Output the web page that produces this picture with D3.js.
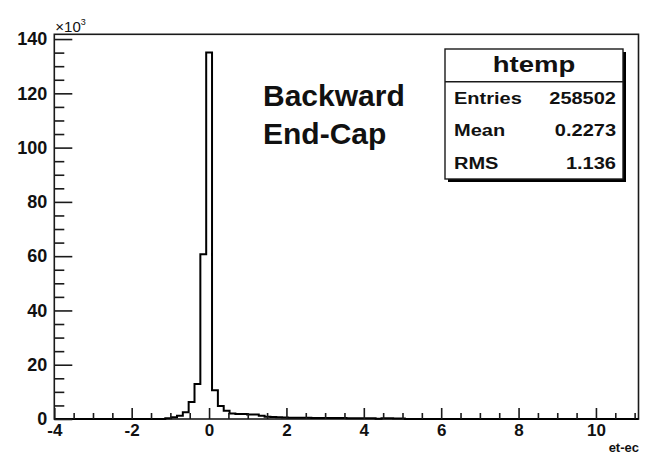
<!DOCTYPE html>
<html>
<head>
<meta charset="utf-8">
<script src="https://cdn.jsdelivr.net/npm/d3@7"></script>
<style>
  html, body { margin: 0; padding: 0; background: #fff; }
  svg { display: block; }
  text { font-family: "Liberation Sans", Arial, Helvetica, sans-serif; }
</style>
</head>
<body>
<svg id="chart" width="645" height="457"></svg>
<script>
// Histogram "htemp" of et-ec, 100 bins from -4 to 11.1, counts in units of 10^3
const xMin = -4;
const xMax = 11.1;
const binWidth = 0.151;
const counts = [
  0, 0, 0, 0, 0, 0, 0, 0, 0, 0,
  0, 0, 0, 0, 0, 0, 0, 0, 0, 0.3,
  0.6, 1.2, 2.5, 6.3, 12.9, 60.7, 135.0, 10.6, 4.8, 3.0,
  2.0, 1.8, 1.8, 1.7, 1.7, 1.2, 0.8, 0.7, 0.6, 0.55,
  0.5, 0.5, 0.45, 0.45, 0.4, 0.4, 0.4, 0.35, 0.35, 0.35,
  0.3, 0.3, 0.3, 0.3, 0.25, 0.05, 0.25, 0.25, 0.2, 0.2,
  0, 0, 0, 0, 0, 0, 0, 0, 0, 0,
  0, 0, 0, 0, 0, 0, 0, 0, 0, 0,
  0, 0, 0, 0, 0, 0, 0, 0, 0, 0,
  0, 0, 0, 0, 0, 0, 0, 0, 0, 0
];
const yMax = 141.75;

const xMajorTicks = [-4, -2, 0, 2, 4, 6, 8, 10];
const xMinorTicks = [-3.5, -3, -2.5, -1.5, -1, -0.5, 0.5, 1, 1.5, 2.5, 3, 3.5, 4.5, 5, 5.5, 6.5, 7, 7.5, 8.5, 9, 9.5, 10.5, 11];
const yMajorTicks = [0, 20, 40, 60, 80, 100, 120, 140];
const yMinorTicks = [5, 10, 15, 25, 30, 35, 45, 50, 55, 65, 70, 75, 85, 90, 95, 105, 110, 115, 125, 130, 135];

const statsTitle = "htemp";
const statsRows = [
  ["Entries", "258502"],
  ["Mean", "0.2273"],
  ["RMS", "1.136"]
];
const labelLines = ["Backward", "End-Cap"];
const xTitle = "et-ec";

const svg = d3.select("#chart");
const padL = 54.3, padR = 638.5, padT = 34.3, padB = 419;
const axisColor = "#1a1a1a";
const plain = d => String(d);   // ASCII hyphen for negative numbers

const x = d3.scaleLinear().domain([xMin, xMax]).range([padL, padR]);
const y = d3.scaleLinear().domain([0, yMax]).range([padB, padT]);

// frame
svg.append("rect")
  .attr("x", padL).attr("y", padT)
  .attr("width", padR - padL).attr("height", padB - padT)
  .attr("fill", "none").attr("stroke", axisColor).attr("stroke-width", 1.6);

// histogram outline as a step path
const pts = [[x(xMin), y(0)]];
counts.forEach((c, i) => {
  const x0 = x(xMin + i * binWidth), x1 = x(xMin + (i + 1) * binWidth);
  pts.push([x0, y(c)], [x1, y(c)]);
});
pts.push([x(xMin + counts.length * binWidth), y(0)]);
svg.append("path")
  .attr("d", d3.line()(pts))
  .attr("fill", "none").attr("stroke", "#000").attr("stroke-width", 2)
  .attr("stroke-linejoin", "miter");

// x axis: minor ticks, then major ticks with labels
svg.append("g")
  .attr("transform", `translate(0,${padB})`)
  .call(d3.axisBottom(x).tickValues(xMinorTicks).tickSizeInner(-6).tickSizeOuter(0).tickFormat(""))
  .call(g => g.select(".domain").remove())
  .call(g => g.selectAll("line").attr("stroke", axisColor).attr("stroke-width", 1.6));

svg.append("g")
  .attr("transform", `translate(0,${padB})`)
  .call(d3.axisBottom(x).tickValues(xMajorTicks).tickSizeInner(-11).tickSizeOuter(0).tickPadding(5).tickFormat(plain))
  .call(g => g.select(".domain").remove())
  .call(g => g.selectAll("line").attr("stroke", axisColor).attr("stroke-width", 1.6))
  .call(g => g.selectAll("text")
    .attr("fill", "#111").attr("font-size", 17).attr("font-weight", "bold")
    .attr("font-family", "'Liberation Sans', Arial, sans-serif"));

// y axis: minor ticks, then major ticks with labels
svg.append("g")
  .attr("transform", `translate(${padL},0)`)
  .call(d3.axisLeft(y).tickValues(yMinorTicks).tickSizeInner(-10).tickSizeOuter(0).tickFormat(""))
  .call(g => g.select(".domain").remove())
  .call(g => g.selectAll("line").attr("stroke", axisColor).attr("stroke-width", 1.6));

svg.append("g")
  .attr("transform", `translate(${padL},0)`)
  .call(d3.axisLeft(y).tickValues(yMajorTicks).tickSizeInner(-18).tickSizeOuter(0).tickPadding(7).tickFormat(plain))
  .call(g => g.select(".domain").remove())
  .call(g => g.selectAll("line").attr("stroke", axisColor).attr("stroke-width", 1.6))
  .call(g => g.selectAll("text")
    .attr("fill", "#111").attr("font-size", 18).attr("font-weight", "bold")
    .attr("font-family", "'Liberation Sans', Arial, sans-serif"));

// exponent label of the y axis
const expo = svg.append("text")
  .attr("x", padL + 1).attr("y", 32)
  .attr("font-size", 15).attr("fill", "#111");
expo.append("tspan").text("\u00d710");
expo.append("tspan").attr("font-size", 9).attr("dy", -7).text("3");

// x axis title
svg.append("text")
  .attr("x", 639).attr("y", 452)
  .attr("text-anchor", "end")
  .attr("font-size", 13).attr("font-weight", "bold").attr("fill", "#111")
  .text(xTitle);

// annotation
svg.selectAll("text.note")
  .data(labelLines)
  .join("text")
  .attr("class", "note")
  .attr("x", 263)
  .attr("y", (d, i) => 106 + i * 38)
  .attr("font-size", 30).attr("font-weight", "bold").attr("fill", "#111")
  .text(d => d);

// statistics box with drop shadow
const bx = 445, by = 49, bw = 178, bh = 130, hdr = 32.7;
const stretch = 1.25;   // wide lettering of the statistics box
svg.append("rect")
  .attr("x", bx + 3).attr("y", by + 3).attr("width", bw).attr("height", bh)
  .attr("fill", "#000");
svg.append("rect")
  .attr("x", bx).attr("y", by).attr("width", bw).attr("height", bh)
  .attr("fill", "#fff").attr("stroke", axisColor).attr("stroke-width", 1.4);
svg.append("line")
  .attr("x1", bx).attr("x2", bx + bw)
  .attr("y1", by + hdr).attr("y2", by + hdr)
  .attr("stroke", axisColor).attr("stroke-width", 1.4);
svg.append("text")
  .attr("transform", `translate(${bx + bw / 2},${by + 23}) scale(${stretch},1)`)
  .attr("text-anchor", "middle")
  .attr("font-size", 22).attr("font-weight", "bold").attr("fill", "#111")
  .text(statsTitle);

const rowH = (bh - hdr) / statsRows.length;
const rows = svg.selectAll("g.stat")
  .data(statsRows)
  .join("g")
  .attr("class", "stat")
  .attr("transform", (d, i) => `translate(0,${by + hdr + rowH * i + rowH / 2 + 6})`);
rows.append("text")
  .attr("transform", `translate(${bx + 9},0) scale(${stretch},1)`)
  .attr("font-size", 16).attr("font-weight", "bold").attr("fill", "#111")
  .text(d => d[0]);
rows.append("text")
  .attr("transform", `translate(${bx + bw - 7},0) scale(${stretch},1)`)
  .attr("text-anchor", "end")
  .attr("font-size", 16).attr("font-weight", "bold").attr("fill", "#111")
  .text(d => d[1]);
</script>
</body>
</html>
